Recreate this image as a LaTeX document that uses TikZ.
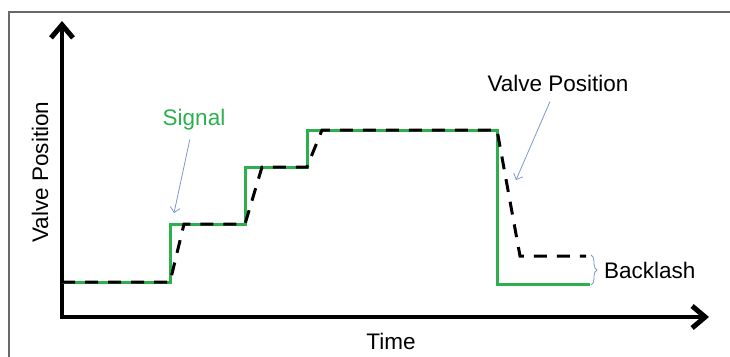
\documentclass[tikz,border=0pt]{standalone}
\usepackage{fontspec}
\setmainfont{Liberation Sans}
\usetikzlibrary{arrows.meta,decorations.pathreplacing}
\definecolor{sigcol}{RGB}{44,176,78}
\definecolor{notecol}{RGB}{125,152,205}
\definecolor{framecol}{RGB}{105,105,105}
\tikzset{
  axis/.style={line width=4pt,-{Straight Barb[length=13pt,width=22pt,line width=5pt]}},
  signal/.style={sigcol,line width=3pt},
  valve/.style={black,line width=3pt,dash pattern=on 13pt off 10pt},
  note/.style={notecol,line width=0.8pt,-{Straight Barb[length=5pt,width=10pt]}},
  lbl/.style={font=\fontsize{22.5}{27}\selectfont,inner sep=1pt}
}
\begin{document}
\begin{tikzpicture}[x=1pt,y=-1pt]
    \useasboundingbox (0,0) rectangle (730,356);
    \draw[framecol,line width=2pt] (9,357)--(9,12)--(731,12);
    % axes
    \draw[axis] (62,319)--(62,21);
    \draw[axis] (60,317)--(709,317);
    % signal and valve position
    \draw[signal] (62,282)--(170,282)--(170,224)--(245,224)--(245,167)--(307,167)
      --(307,130)--(497,130)--(497,284)--(590,284);
    \draw[valve] (62,282)--(170,282)--(184,224)--(245,224)--(262,167)--(307,167)
      --(322,130)--(497,130)--(520,256)--(586,256);
    \draw[notecol,line width=0.8pt,decorate,decoration={brace,amplitude=6pt}]
      (591,255)--(591,285);
    % labels
    \node[lbl,rotate=90] (ylab) at (40,172) {Valve Position};
    \node[lbl] (xlab) at (391,341) {Time};
    \node[lbl,text=sigcol] (sig) at (194,120) {Signal};
    \node[lbl] (vp) at (558,83) {Valve Position};
    \node[lbl,anchor=west] (bl) at (603,270) {Backlash};
    \coordinate (sigtip) at (174,213);
    \coordinate (vptip) at (516,180);
    \draw[note,shorten <=8pt] (sig)--(sigtip);
    \draw[note,shorten <=10pt] (vp)--(vptip);
  \end{tikzpicture}
\end{document}
